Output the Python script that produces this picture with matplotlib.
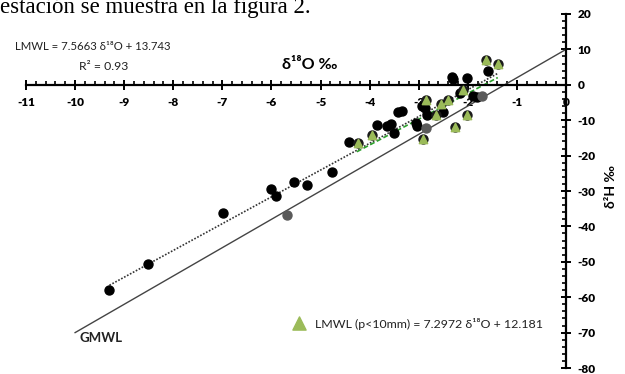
import matplotlib
matplotlib.use("Agg")
import matplotlib.pyplot as plt
import numpy as np
from matplotlib.ticker import MultipleLocator

# Points (d18O, d2H)
circ_x = [-9.30, -8.52, -6.98, -6.01, -5.91, -5.54, -5.27, -4.77, -4.43, -3.86,
          -3.64, -3.57, -3.50, -3.42, -3.35, -3.05, -3.03, -2.94, -2.87, -2.84,
          -2.50, -2.33, -2.31, -2.16, -2.02, -1.89, -1.82, -1.58]
circ_y = [-57.9, -50.5, -36.1, -29.3, -31.4, -27.4, -28.2, -24.6, -16.3, -11.3,
          -11.5, -11.0, -13.5, -7.8, -7.4, -10.9, -11.6, -5.9, -6.6, -8.5,
          -7.6, 2.2, 1.6, -2.4, 1.9, -3.3, -3.5, 3.8]
gray_x = [-5.69, -2.85, -1.72]
gray_y = [-36.8, -12.3, -3.3]
tri_x = [-4.23, -3.96, -2.91, -2.85, -2.65, -2.55, -2.40, -2.26, -2.09, -2.02, -1.62, -1.39]
tri_y = [-16.5, -14.2, -15.4, -4.2, -8.5, -5.4, -4.2, -12.0, -1.6, -8.5, 7.1, 5.9]

# Lines: slope, intercept, x range
gmwl = (8.0, 10.0, [-10.0, 0.0])
lmwl = (7.5663, 13.743, [-9.3, -1.4])
lmwl_p10 = (7.2972, 12.181, [-4.26, -1.39])

fam = ["Lato", "DejaVu Sans"]
plt.rcParams["font.family"] = fam

fig = plt.figure(figsize=(6.25, 3.74), dpi=100)
ax = fig.add_axes([0.0416, 0.016, 0.864, 0.9466])

for (m, b, xr), style in [(gmwl, dict(color="#444444", lw=1.0, ls="-")),
                          (lmwl, dict(color="#333333", lw=1.2, ls=(0, (1, 1)))),
                          (lmwl_p10, dict(color="#2ca02c", lw=1.2, ls=(0, (3, 1.5))))]:
    xl = np.array(xr)
    ax.plot(xl, m * xl + b, zorder=2, **style)

ax.scatter(circ_x, circ_y, s=42, color="black", zorder=3)
ax.scatter(gray_x, gray_y, s=42, color="#5a5a5a", zorder=3)
ax.scatter(tri_x, tri_y, s=42, color="#1a1a1a", zorder=3)
ax.scatter(tri_x, tri_y, s=36, marker="^", color="#9bbb59", zorder=4)

ax.set_xlim(-11, 0)
ax.set_ylim(-80, 20)

ax.spines["top"].set_visible(False)
ax.spines["left"].set_visible(False)
ax.spines["bottom"].set_position(("data", 0))
ax.spines["bottom"].set_linewidth(1.6)
ax.spines["right"].set_linewidth(1.6)
ax.yaxis.tick_right()

ax.xaxis.set_major_locator(MultipleLocator(1))
ax.xaxis.set_minor_locator(MultipleLocator(0.2))
ax.yaxis.set_major_locator(MultipleLocator(10))
ax.yaxis.set_minor_locator(MultipleLocator(2))
ax.tick_params(axis="x", which="major", direction="inout", length=7, width=1.4,
               pad=5, labelsize=8.5)
ax.tick_params(axis="y", which="major", direction="inout", length=7, width=1.4,
               pad=5, labelsize=8.5)
ax.tick_params(which="minor", direction="in", length=3, width=1.2)
ax.set_xticks(np.arange(-11, 1, 1))
ax.set_xticklabels([str(v) for v in range(-11, 1)], fontweight="heavy")
ax.set_yticks(np.arange(-80, 30, 10))
ax.set_yticklabels([str(v) for v in range(-80, 30, 10)], fontweight="heavy")

ax.text(0.496, 0.825, "δ¹⁸O ‰", transform=fig.transFigure, fontsize=11.5,
        fontweight="bold", family=fam, ha="center", va="center")
ax.text(0.978, 0.5, "δ²H ‰", transform=fig.transFigure, fontsize=10,
        fontweight="bold", family=fam, rotation=90, ha="center", va="center")

ax.text(15 / 625, 1 - 47 / 374, "LMWL = 7.5663 δ¹⁸O + 13.743", transform=fig.transFigure,
        fontsize=8.2, ha="left", va="center", color="#222222")
ax.text(79 / 625, 1 - 66 / 374, "R² = 0.93", transform=fig.transFigure,
        fontsize=8.8, ha="left", va="center", color="#222222")
ax.text(80 / 625, 1 - 338 / 374, "GMWL", transform=fig.transFigure,
        fontsize=9.5, fontweight="bold", ha="left", va="center", color="#222222")

ax.scatter([299 / 625], [1 - 323 / 374], transform=fig.transFigure, s=90,
           marker="^", color="#9bbb59", clip_on=False)
ax.text(315 / 625, 1 - 324 / 374, "LMWL (p<10mm) = 7.2972 δ¹⁸O + 12.181",
        transform=fig.transFigure, fontsize=8.9, ha="left", va="center", color="#222222")

fig.text(0.0, 1 - 13 / 374, "estación se muestra en la figura 2.",
         family="Liberation Serif", fontsize=16.5, ha="left", va="baseline")

fig.savefig("out.png", dpi=100)
